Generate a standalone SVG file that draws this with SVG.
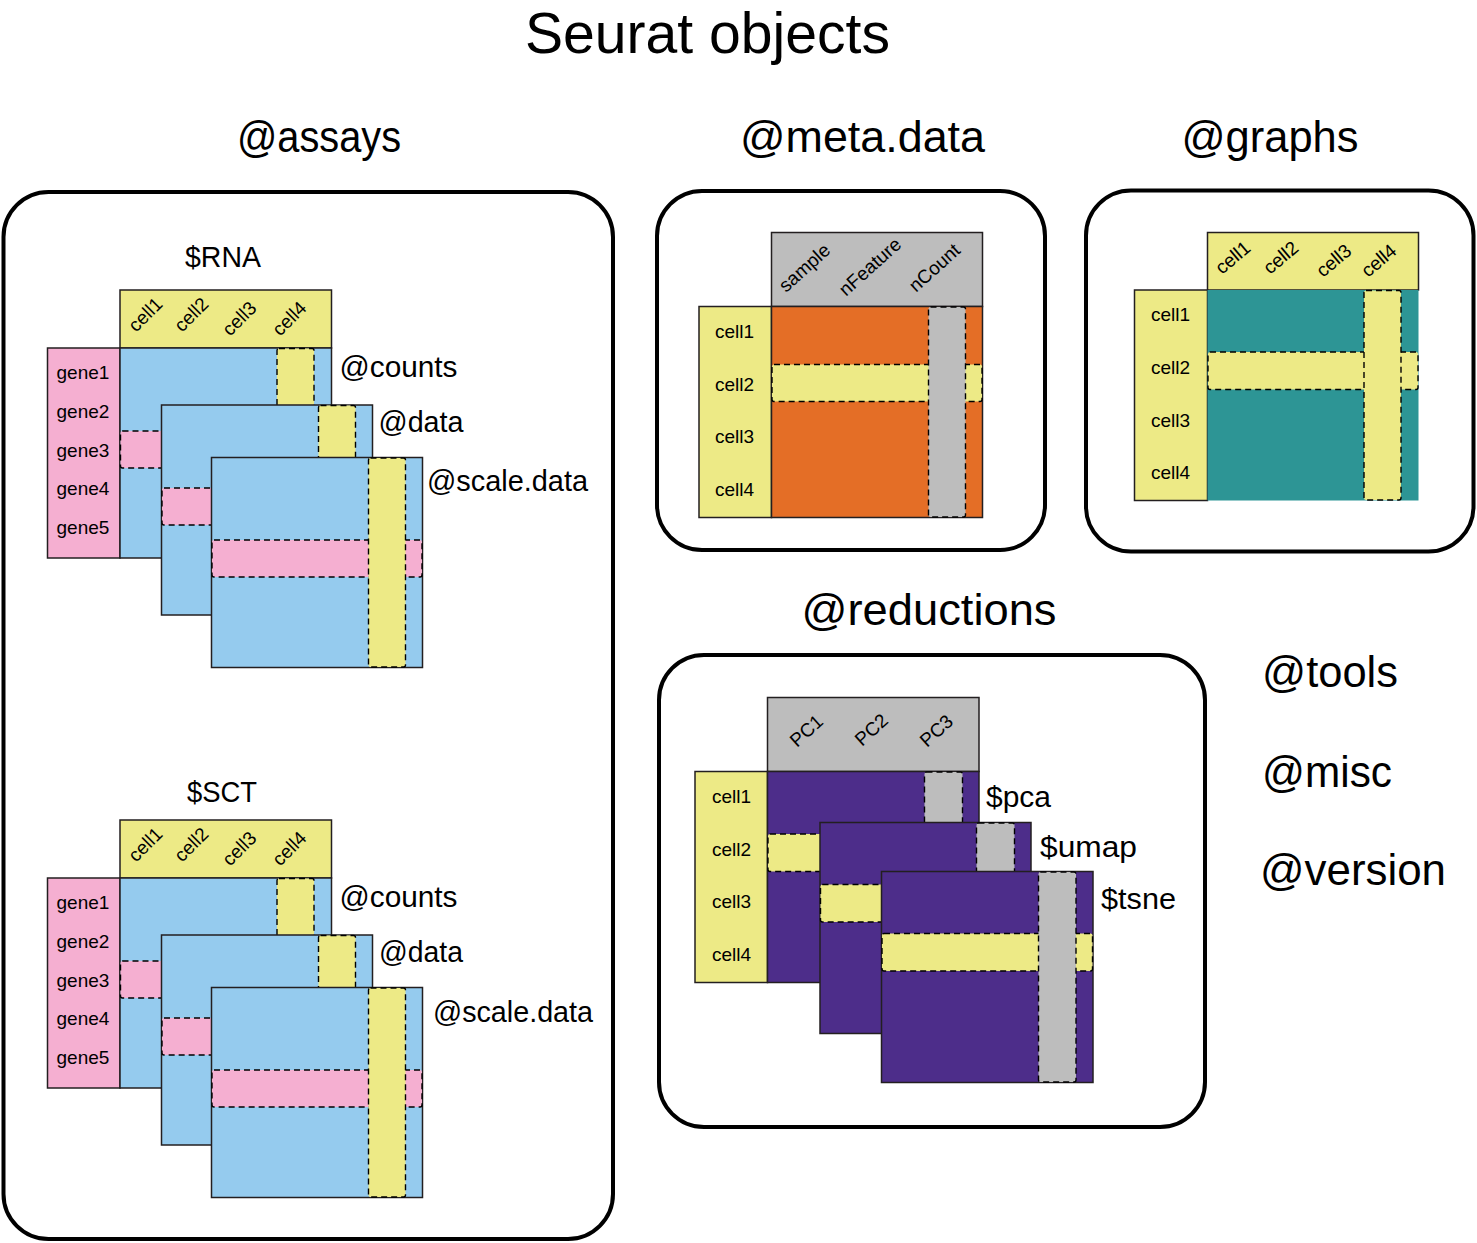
<svg xmlns="http://www.w3.org/2000/svg" width="1477" height="1243" viewBox="0 0 1477 1243">
<style>
  text { font-family: "Liberation Sans", Arial, sans-serif; fill: #000; }
  .title { font-size: 58px; }
  .sec { font-size: 44px; }
  .lab { font-size: 30px; }
  .sm { font-size: 19px; }
  .box { fill: none; stroke: #000; stroke-width: 4; }
  .m { stroke: #231F20; stroke-width: 1.5; }
  .d { stroke: #000; stroke-width: 1.4; stroke-dasharray: 6 4; }
  .blue { fill: #95CBEE; }
  .pink { fill: #F5AFD1; }
  .yel { fill: #EDEA86; }
  .org { fill: #E46E26; }
  .gry { fill: #BDBDBD; }
  .teal { fill: #2D9595; }
  .pur { fill: #4D2D8A; }
</style>
<rect x="0" y="0" width="1477" height="1243" fill="#fff"/>

<g id="title">
  <text class="title" x="525" y="53" textLength="365" lengthAdjust="spacingAndGlyphs">Seurat objects</text>
</g>

<!-- ===== @assays ===== -->
<g id="assays">
  <text class="sec" x="237" y="152" textLength="164" lengthAdjust="spacingAndGlyphs">@assays</text>
  <rect class="box" x="3.5" y="192" width="609.5" height="1047" rx="45"/>

  <g id="assay-RNA">
    <text class="lab" x="185" y="267" font-size="29" textLength="76" lengthAdjust="spacingAndGlyphs">$RNA</text>
    <rect class="m yel" x="120" y="290" width="211.5" height="58"/>
    <text class="sm" transform="translate(136,333) rotate(-45)">cell1</text>
    <text class="sm" transform="translate(182,333) rotate(-45)">cell2</text>
    <text class="sm" transform="translate(230,337) rotate(-45)">cell3</text>
    <text class="sm" transform="translate(280,337) rotate(-45)">cell4</text>
    <rect class="m pink" x="47.5" y="348" width="72.5" height="210"/>
    <text class="sm" x="56.5" y="379">gene1</text>
    <text class="sm" x="56.5" y="418">gene2</text>
    <text class="sm" x="56.5" y="457">gene3</text>
    <text class="sm" x="56.5" y="495">gene4</text>
    <text class="sm" x="56.5" y="534">gene5</text>
    <g id="RNA-counts">
      <rect class="m blue" x="120" y="348" width="211.5" height="210"/>
      <rect class="d pink" x="120.5" y="431" width="210.5" height="37" rx="2"/>
      <rect class="d yel" x="277" y="348.5" width="37" height="209" rx="2"/>
      <text class="lab" x="339.5" y="377" textLength="118" lengthAdjust="spacingAndGlyphs">@counts</text>
    </g>
    <g id="RNA-data">
      <rect class="m blue" x="161.5" y="405" width="211" height="210"/>
      <rect class="d pink" x="162" y="488" width="210" height="37" rx="2"/>
      <rect class="d yel" x="318.5" y="405.5" width="37" height="209" rx="2"/>
      <text class="lab" x="378.5" y="432" textLength="85" lengthAdjust="spacingAndGlyphs">@data</text>
    </g>
    <g id="RNA-scale">
      <rect class="m blue" x="211.5" y="457.5" width="211" height="210"/>
      <rect class="d pink" x="212" y="540" width="210" height="37" rx="2"/>
      <rect class="d yel" x="368.5" y="458" width="37" height="209" rx="2"/>
      <text class="lab" x="427" y="491" textLength="161" lengthAdjust="spacingAndGlyphs">@scale.data</text>
    </g>
  </g>

  <g id="assay-SCT">
    <text class="lab" x="187" y="802" font-size="29" textLength="70" lengthAdjust="spacingAndGlyphs">$SCT</text>
    <rect class="m yel" x="120" y="820" width="211.5" height="58"/>
    <text class="sm" transform="translate(136,863) rotate(-45)">cell1</text>
    <text class="sm" transform="translate(182,863) rotate(-45)">cell2</text>
    <text class="sm" transform="translate(230,867) rotate(-45)">cell3</text>
    <text class="sm" transform="translate(280,867) rotate(-45)">cell4</text>
    <rect class="m pink" x="47.5" y="878" width="72.5" height="210"/>
    <text class="sm" x="56.5" y="909">gene1</text>
    <text class="sm" x="56.5" y="948">gene2</text>
    <text class="sm" x="56.5" y="987">gene3</text>
    <text class="sm" x="56.5" y="1025">gene4</text>
    <text class="sm" x="56.5" y="1064">gene5</text>
    <g id="SCT-counts">
      <rect class="m blue" x="120" y="878" width="211.5" height="210"/>
      <rect class="d pink" x="120.5" y="961" width="210.5" height="37" rx="2"/>
      <rect class="d yel" x="277" y="878.5" width="37" height="209" rx="2"/>
      <text class="lab" x="339.5" y="907" textLength="118" lengthAdjust="spacingAndGlyphs">@counts</text>
    </g>
    <g id="SCT-data">
      <rect class="m blue" x="161.5" y="935" width="211" height="210"/>
      <rect class="d pink" x="162" y="1018" width="210" height="37" rx="2"/>
      <rect class="d yel" x="318.5" y="935.5" width="37" height="209" rx="2"/>
      <text class="lab" x="379" y="962" textLength="84" lengthAdjust="spacingAndGlyphs">@data</text>
    </g>
    <g id="SCT-scale">
      <rect class="m blue" x="211.5" y="987.5" width="211" height="210"/>
      <rect class="d pink" x="212" y="1070" width="210" height="37" rx="2"/>
      <rect class="d yel" x="368.5" y="988" width="37" height="209" rx="2"/>
      <text class="lab" x="433" y="1022" textLength="160" lengthAdjust="spacingAndGlyphs">@scale.data</text>
    </g>
  </g>
</g>

<!-- ===== @meta.data ===== -->
<g id="metadata">
  <text class="sec" x="740" y="152" textLength="245" lengthAdjust="spacingAndGlyphs">@meta.data</text>
  <rect class="box" x="657" y="191" width="388" height="359" rx="45"/>
  <rect class="m gry" x="771.5" y="232.5" width="211" height="74"/>
  <text class="sm" transform="translate(786,293) rotate(-42)">sample</text>
  <text class="sm" transform="translate(846,297) rotate(-42)">nFeature</text>
  <text class="sm" transform="translate(916,293) rotate(-42)">nCount</text>
  <rect class="m yel" x="699" y="306.5" width="72.5" height="211"/>
  <text class="sm" x="715" y="338">cell1</text>
  <text class="sm" x="715" y="391">cell2</text>
  <text class="sm" x="715" y="443">cell3</text>
  <text class="sm" x="715" y="496">cell4</text>
  <rect class="m org" x="771.5" y="306.5" width="211" height="211"/>
  <rect class="d yel" x="772" y="364.5" width="210" height="37" rx="2"/>
  <rect class="d gry" x="928.5" y="307" width="37" height="210" rx="2"/>
</g>

<!-- ===== @graphs ===== -->
<g id="graphs">
  <text class="sec" x="1181.5" y="152" textLength="177" lengthAdjust="spacingAndGlyphs">@graphs</text>
  <rect class="box" x="1086" y="190.5" width="387.5" height="361" rx="45"/>
  <rect class="m yel" x="1207.5" y="232.5" width="211" height="57.5"/>
  <text class="sm" transform="translate(1222,275) rotate(-40)">cell1</text>
  <text class="sm" transform="translate(1270,275) rotate(-40)">cell2</text>
  <text class="sm" transform="translate(1323,278) rotate(-40)">cell3</text>
  <text class="sm" transform="translate(1368,278) rotate(-40)">cell4</text>
  <rect class="m yel" x="1134.5" y="290" width="73" height="210.5"/>
  <text class="sm" x="1151" y="321">cell1</text>
  <text class="sm" x="1151" y="374">cell2</text>
  <text class="sm" x="1151" y="427">cell3</text>
  <text class="sm" x="1151" y="479">cell4</text>
  <rect class="teal" x="1207.5" y="290" width="211" height="210.5"/>
  <rect class="d yel" x="1208" y="352" width="210" height="37.5" rx="2"/>
  <rect class="d yel" x="1364" y="290.5" width="37" height="209.5" rx="2"/>
</g>

<!-- ===== @reductions ===== -->
<g id="reductions">
  <text class="sec" x="801.5" y="625" textLength="255" lengthAdjust="spacingAndGlyphs">@reductions</text>
  <rect class="box" x="659" y="655" width="546" height="472" rx="45"/>
  <rect class="m gry" x="767.5" y="697.5" width="211.5" height="74"/>
  <text class="sm" transform="translate(797,748) rotate(-42)">PC1</text>
  <text class="sm" transform="translate(862,747) rotate(-42)">PC2</text>
  <text class="sm" transform="translate(927,748) rotate(-42)">PC3</text>
  <rect class="m yel" x="695" y="771.5" width="72.5" height="211"/>
  <text class="sm" x="712" y="803">cell1</text>
  <text class="sm" x="712" y="856">cell2</text>
  <text class="sm" x="712" y="908">cell3</text>
  <text class="sm" x="712" y="961">cell4</text>
  <g id="red-pca">
    <rect class="m pur" x="767.5" y="771.5" width="211.5" height="211"/>
    <rect class="d yel" x="768" y="834" width="210" height="37.5" rx="2"/>
    <rect class="d gry" x="924.5" y="772" width="38" height="210" rx="2"/>
    <text class="lab" x="986" y="807" font-size="31" textLength="65" lengthAdjust="spacingAndGlyphs">$pca</text>
  </g>
  <g id="red-umap">
    <rect class="m pur" x="820" y="822.5" width="211" height="211"/>
    <rect class="d yel" x="820.5" y="884.5" width="210" height="37.5" rx="2"/>
    <rect class="d gry" x="976.5" y="823" width="38" height="210" rx="2"/>
    <text class="lab" x="1040" y="857" font-size="31" textLength="97" lengthAdjust="spacingAndGlyphs">$umap</text>
  </g>
  <g id="red-tsne">
    <rect class="m pur" x="881.5" y="871.5" width="211.5" height="211"/>
    <rect class="d yel" x="882" y="933.5" width="210.5" height="37.5" rx="2"/>
    <rect class="d gry" x="1038.5" y="872" width="37.5" height="210" rx="2"/>
    <text class="lab" x="1101" y="909" font-size="31" textLength="75" lengthAdjust="spacingAndGlyphs">$tsne</text>
  </g>
</g>

<g id="other-slots">
  <text class="sec" x="1262" y="687" textLength="136" lengthAdjust="spacingAndGlyphs">@tools</text>
  <text class="sec" x="1262" y="787" textLength="130" lengthAdjust="spacingAndGlyphs">@misc</text>
  <text class="sec" x="1260" y="885" textLength="186" lengthAdjust="spacingAndGlyphs">@version</text>
</g>

<g id="connectors"></g>
</svg>
